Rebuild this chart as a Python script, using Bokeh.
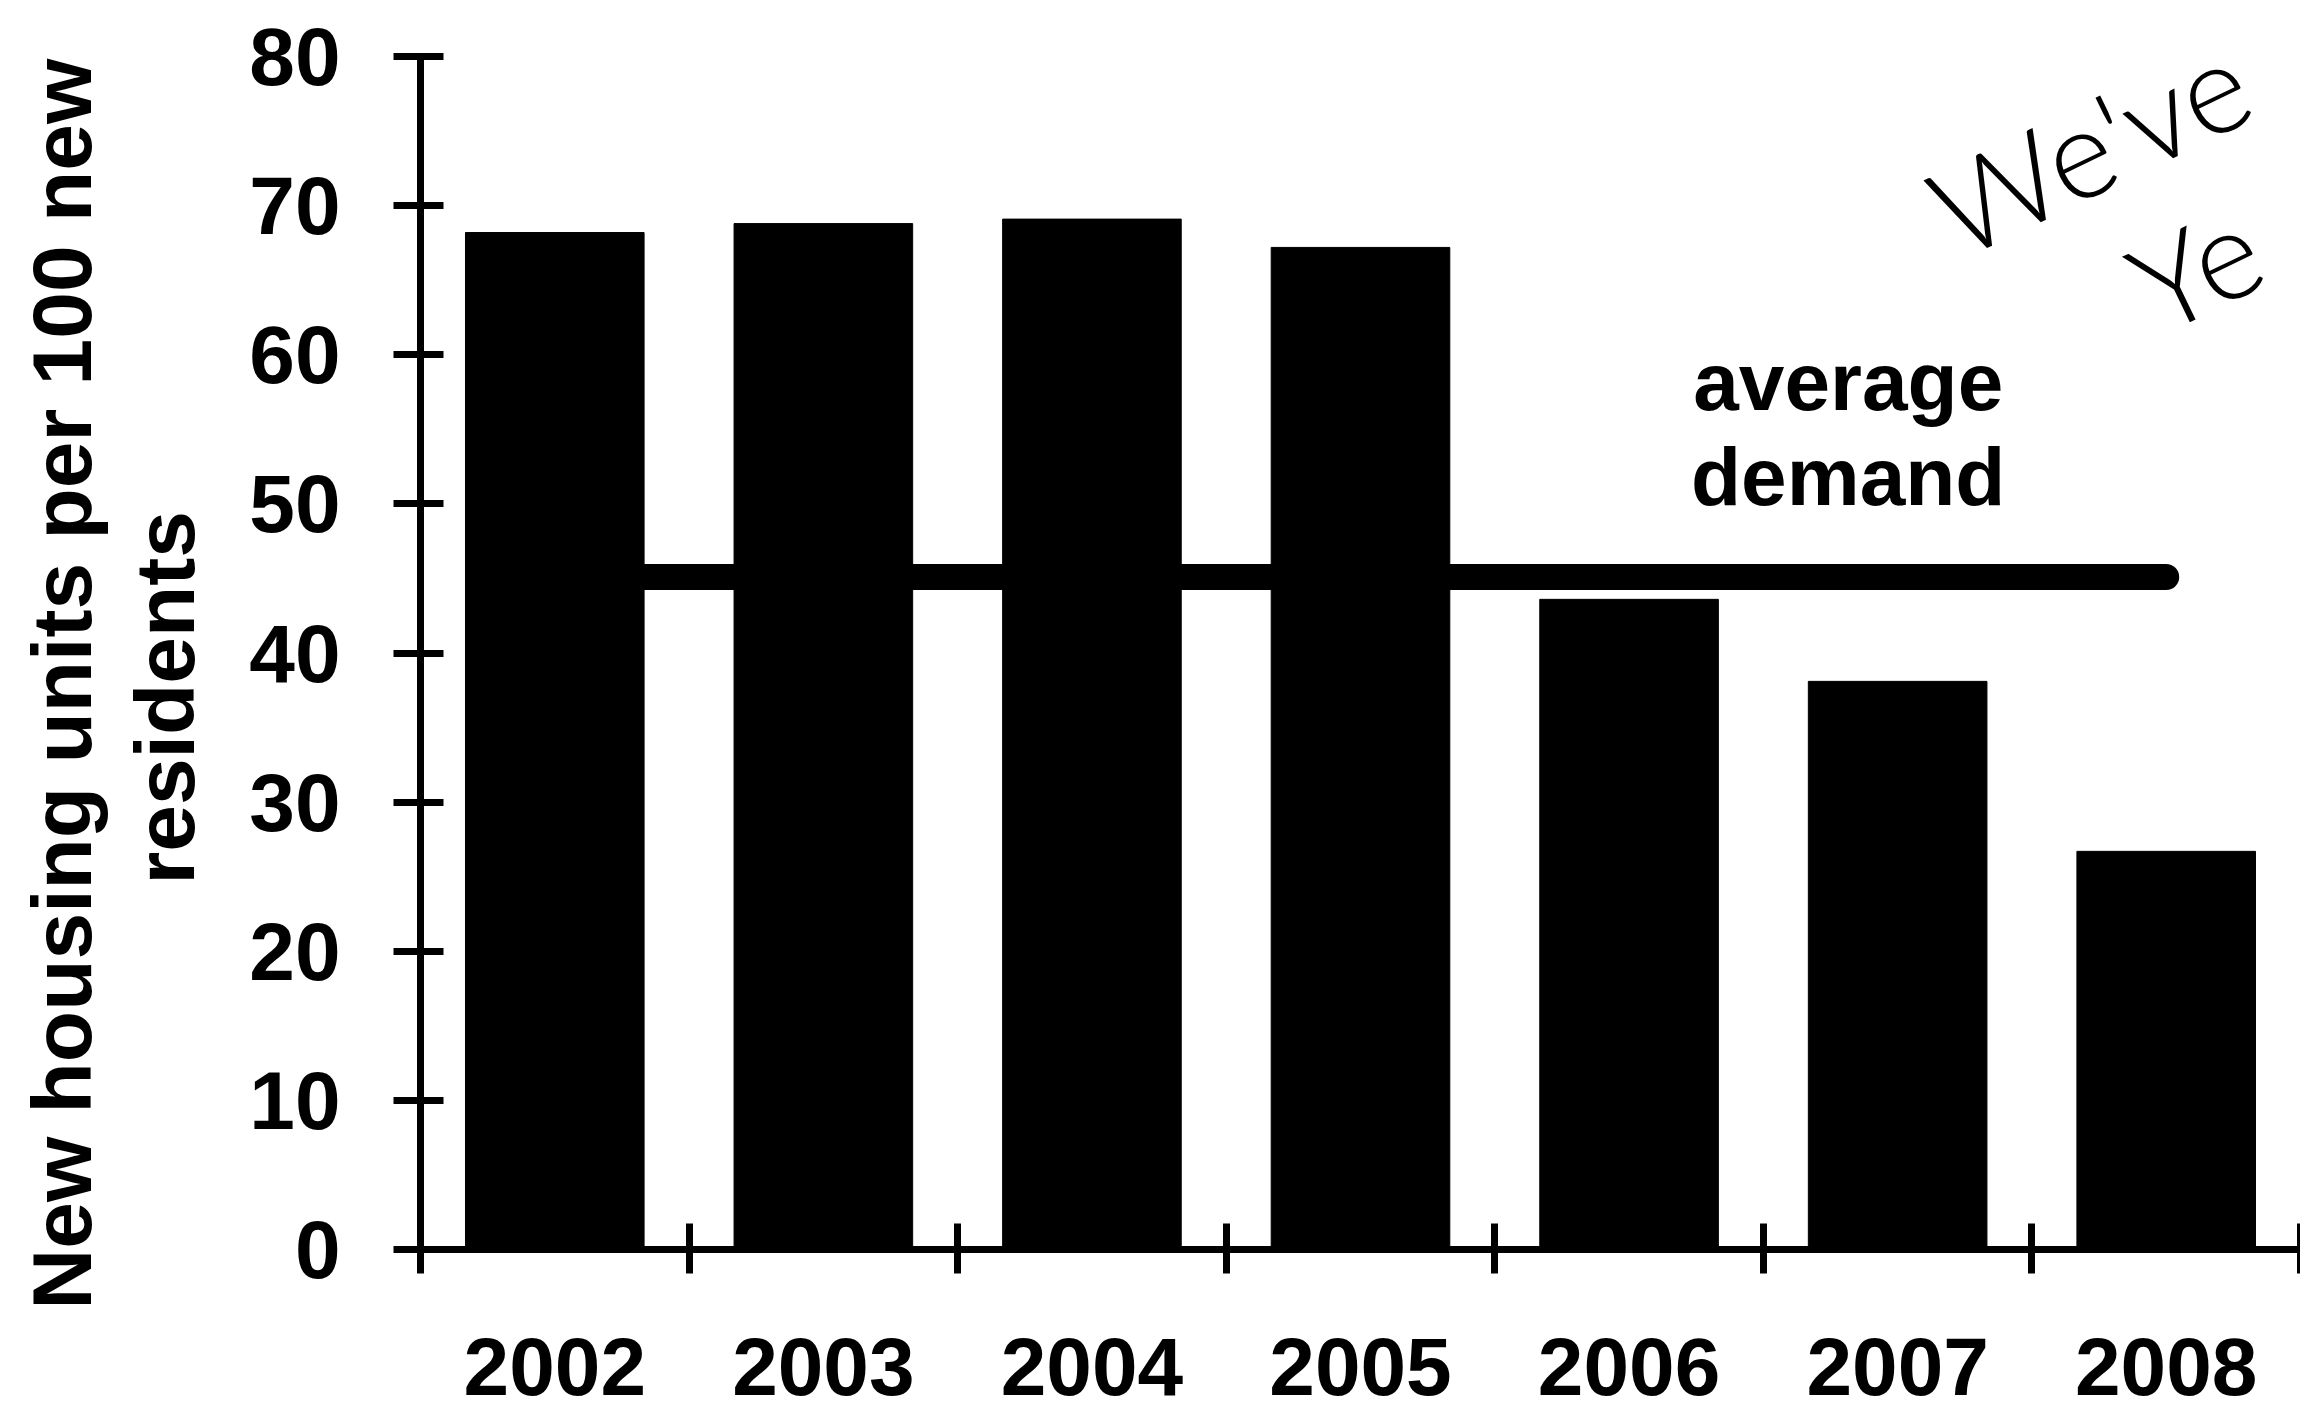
from bokeh.plotting import figure
from bokeh.models import Range1d, FixedTicker, Label, Title
from bokeh.embed import file_html
from bokeh.resources import INLINE

# ---- data ----
years = ["2002", "2003", "2004", "2005", "2006", "2007", "2008"]
units_per_100 = [68.2, 68.8, 69.1, 67.2, 43.6, 38.1, 26.7]
average_demand = 45.1
y_ticks = [0, 10, 20, 30, 40, 50, 60, 70, 80]
y_label_lines = ["New housing units per 100 new", "residents"]
avg_label = ["average", "demand"]
note_lines = ["We've", "Ye"]

n = len(years)
centers = [i + 0.5 for i in range(n)]
bounds = list(range(n + 1))

FONT = "Liberation Sans"
Y_VIEW_TOP = 83.76   # visible headroom above the 80 tick (axis itself stops at 80)

p = figure(width=2300, height=1420, output_backend="svg", toolbar_location=None,
           x_range=Range1d(0, n), y_range=Range1d(0, Y_VIEW_TOP),
           min_border_left=420, min_border_right=0, min_border_top=0,
           min_border_bottom=171)
p.outline_line_color = None
p.grid.visible = False
p.background_fill_color = "white"
p.border_fill_color = "white"

# bars
p.vbar(x=centers, top=units_per_100, width=0.665,
       fill_color="black", line_color="black", line_width=1)

# average demand line
p.line(x=[centers[0], centers[-1]], y=[average_demand, average_demand],
       line_width=26, line_color="black", line_cap="round")

# x axis: labels at category centres, tick marks at category boundaries
xa = p.xaxis[0]
xa.ticker = FixedTicker(ticks=centers, minor_ticks=bounds)
xa.major_label_overrides = {c: yr for c, yr in zip(centers, years)}
xa.major_tick_in = 0
xa.major_tick_out = 0
xa.major_tick_line_color = None
xa.minor_tick_in = 26
xa.minor_tick_out = 24
xa.minor_tick_line_width = 7
xa.minor_tick_line_color = "black"
xa.axis_line_width = 7
xa.axis_line_color = "black"
xa.major_label_standoff = 64
xa.major_label_text_font = FONT
xa.major_label_text_font_style = "bold"
xa.major_label_text_font_size = "82px"
xa.major_label_text_color = "black"

# y axis (line and ticks stop at 80)
ya = p.yaxis[0]
ya.bounds = (y_ticks[0], y_ticks[-1])
ya.ticker = FixedTicker(ticks=y_ticks)
ya.major_tick_in = 23
ya.major_tick_out = 27
ya.major_tick_line_width = 7
ya.major_tick_line_color = "black"
ya.minor_tick_line_color = None
ya.axis_line_width = 7
ya.axis_line_color = "black"
ya.major_label_standoff = 53
ya.major_label_text_font = FONT
ya.major_label_text_font_style = "bold"
ya.major_label_text_font_size = "82px"
ya.major_label_text_color = "black"

# y-axis title, two rotated lines (inner line added first);
# align="left" starts the text at the bottom of the frame, offset moves it up
p.add_layout(Title(text=y_label_lines[1], align="left", offset=365,
                   standoff=70, text_font=FONT, text_font_style="bold",
                   text_font_size="84px", text_color="black"), "left")
p.add_layout(Title(text=y_label_lines[0], align="left", offset=-60,
                   standoff=-57, text_font=FONT, text_font_style="bold",
                   text_font_size="84px", text_color="black"), "left")

# "average demand" annotation
for txt, yv in zip(avg_label, [58.2, 51.85]):
    p.add_layout(Label(x=5.316, y=yv, text=txt, text_align="center",
                       text_baseline="alphabetic", text_font=FONT,
                       text_font_style="bold", text_font_size="82px",
                       text_color="black"))

# handwritten note
for txt, xv, yv in zip(note_lines, [5.652, 6.396], [69.15, 64.1]):
    p.add_layout(Label(x=xv, y=yv, text=txt, angle=0.45, text_align="left",
                       text_baseline="alphabetic",
                       text_font="'Lato Light', Lato, 'DejaVu Sans'",
                       text_font_style="normal", text_font_size="125px",
                       text_color="black"))

open("out.html", "w").write(file_html(p, INLINE))
